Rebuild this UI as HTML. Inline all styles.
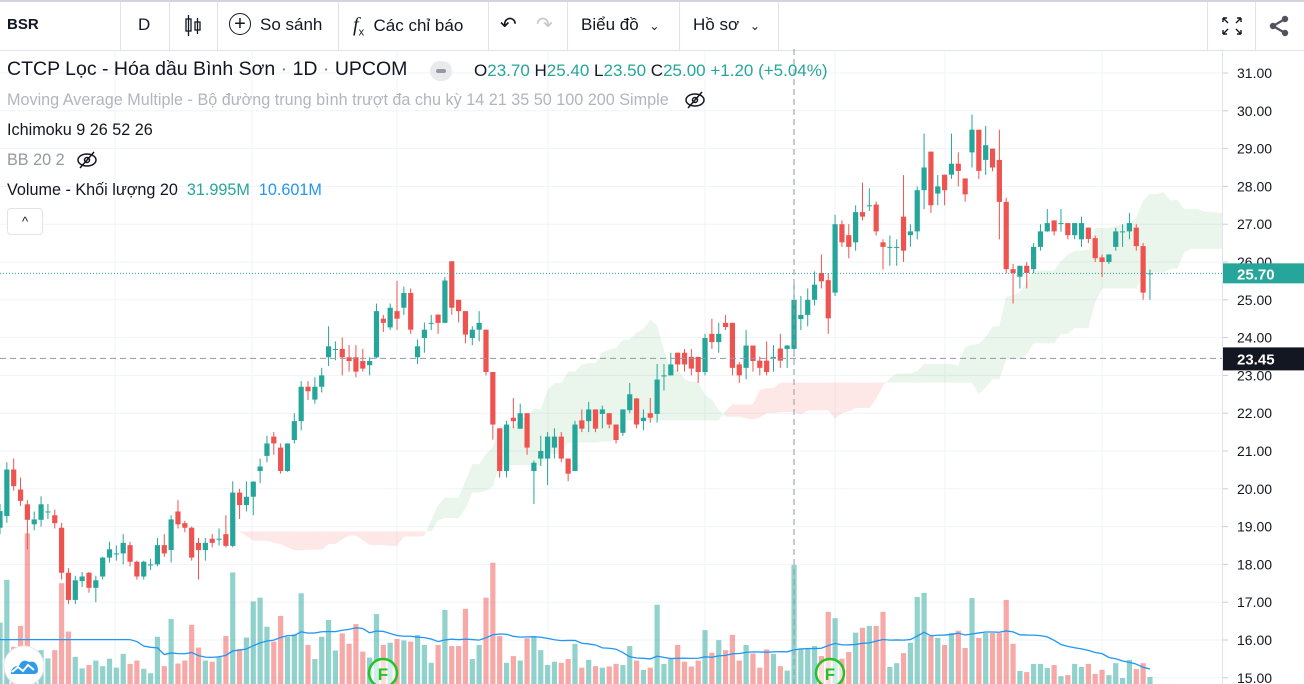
<!DOCTYPE html>
<html><head><meta charset="utf-8">
<style>
html,body{margin:0;padding:0;background:#fff;}
body{width:1304px;height:684px;overflow:hidden;position:relative;font-family:"Liberation Sans","Noto Sans CJK SC",sans-serif;color:#131722;}
.tb{position:absolute;left:0;top:0;width:1304px;height:48px;border-top:2px solid #d1d4dc;border-bottom:1px solid #e0e3eb;box-sizing:content-box;}
.sep{position:absolute;top:0;width:1px;height:48px;background:#e0e3eb;}
.ti{position:absolute;top:0;height:48px;line-height:46px;font-size:17px;color:#131722;white-space:nowrap;}
.lg{position:absolute;left:7px;font-size:16.2px;white-space:nowrap;}
.t{color:#26a69a}
#chart{position:absolute;left:0;top:0;}
</style></head>
<body>
<div class="tb">
  <div class="ti" style="left:7px;font-weight:bold;font-size:15px">BSR</div>
  <div class="sep" style="left:120px"></div>
  <div class="ti" style="left:138px">D</div>
  <div class="sep" style="left:169px"></div>
  <svg class="ti" style="left:183px;top:12px;height:24px" width="20" height="24"><rect x="3" y="5" width="5" height="12" fill="none" stroke="#131722" stroke-width="1.3"/><line x1="5.5" y1="1" x2="5.5" y2="22" stroke="#131722" stroke-width="1.3"/><rect x="12" y="8" width="5" height="8" fill="none" stroke="#131722" stroke-width="1.3"/><line x1="14.5" y1="4" x2="14.5" y2="20" stroke="#131722" stroke-width="1.3"/></svg>
  <div class="sep" style="left:217px"></div>
  <div class="ti" style="left:229px"><span style="display:inline-block;width:20px;height:20px;border:1.5px solid #131722;border-radius:50%;text-align:center;line-height:20px;font-size:20px;vertical-align:middle;margin-right:9px;margin-top:-3px">+</span>So sánh</div>
  <div class="sep" style="left:338px"></div>
  <div class="ti" style="left:353px"><i style="font-family:'Liberation Serif',serif;font-size:20px">f</i><sub style="font-size:11px">x</sub>&nbsp;&nbsp;Các chỉ báo</div>
  <div class="sep" style="left:488px"></div>
  <div class="ti" style="left:500px;font-size:20px">↶</div>
  <div class="ti" style="left:536px;font-size:20px;color:#c4c6cc">↷</div>
  <div class="sep" style="left:567px"></div>
  <div class="ti" style="left:581px">Biểu đồ <span style="font-size:12px;margin-left:6px">⌄</span></div>
  <div class="sep" style="left:679px"></div>
  <div class="ti" style="left:693px">Hồ sơ <span style="font-size:12px;margin-left:6px">⌄</span></div>
  <div class="sep" style="left:778px"></div>
  <div class="sep" style="left:1207px"></div>
  <svg class="ti" style="left:1220px;top:13px;height:22px" width="24" height="22"><g stroke="#131722" stroke-width="1.4" fill="none"><path d="M3 3l5 5M3 3h4M3 3v4M21 3l-5 5M21 3h-4M21 3v4M3 19l5-5M3 19h4M3 19v-4M21 19l-5-5M21 19h-4M21 19v-4"/></g></svg>
  <div class="sep" style="left:1255px"></div>
  <svg class="ti" style="left:1268px;top:13px;height:22px" width="22" height="22"><g fill="#50535e"><circle cx="17" cy="4" r="3.2"/><circle cx="5" cy="11" r="3.2"/><circle cx="17" cy="18" r="3.2"/></g><path d="M17 4L5 11L17 18" stroke="#50535e" stroke-width="2.2" fill="none"/></svg>
</div>

<svg id="chart" width="1304" height="684"></svg>

<div class="lg" style="top:58px;font-size:19.5px">CTCP Lọc - Hóa dầu Bình Sơn <span style="color:#787b86">·</span> 1D <span style="color:#787b86">·</span> UPCOM</div>
<div style="position:absolute;left:430px;top:61px;width:22px;height:20px;border-radius:10px;background:#e9eaee"><div style="position:absolute;left:6px;top:8px;width:10px;height:4px;border-radius:2px;background:#9598a1"></div></div>
<div class="lg" style="left:474px;top:61px;font-size:17px">O<span class="t">23.70</span> H<span class="t">25.40</span> L<span class="t">23.50</span> C<span class="t">25.00</span> <span class="t">+1.20 (+5.04%)</span></div>
<div class="lg" style="top:91px;color:#b2b5be">Moving Average Multiple - Bộ đường trung bình trượt đa chu kỳ 14 21 35 50 100 200 Simple</div>
<svg style="position:absolute;left:684px;top:90px" width="22" height="20"><ellipse cx="11" cy="10" rx="9" ry="6" fill="none" stroke="#131722" stroke-width="1.5"/><circle cx="11" cy="10" r="2.5" fill="none" stroke="#131722" stroke-width="1.5"/><line x1="4" y1="18" x2="18" y2="2" stroke="#131722" stroke-width="1.5"/></svg>
<div class="lg" style="top:121px">Ichimoku 9 26 52 26</div>
<div class="lg" style="top:151px;color:#9598a1">BB 20 2</div>
<svg style="position:absolute;left:76px;top:150px" width="22" height="20"><ellipse cx="11" cy="10" rx="9" ry="6" fill="none" stroke="#131722" stroke-width="1.5"/><circle cx="11" cy="10" r="2.5" fill="none" stroke="#131722" stroke-width="1.5"/><line x1="4" y1="18" x2="18" y2="2" stroke="#131722" stroke-width="1.5"/></svg>
<div class="lg" style="top:181px">Volume - Khối lượng 20 &nbsp;<span class="t">31.995M</span> &nbsp;<span style="color:#2196f3">10.601M</span></div>
<div style="position:absolute;left:7px;top:208px;width:34px;height:25px;border:1px solid #e0e3eb;border-radius:4px;background:#fff;text-align:center;line-height:26px;font-size:13px">^</div>

<script>
const opens=[18.97,19.28,20.51,19.98,19.59,19.06,19.18,19.4,19.3,18.97,17.78,17.06,17.56,17.78,17.38,17.68,18.18,18.29,18.29,18.51,18.07,17.68,18.0,18.0,18.51,18.38,19.4,19.09,18.97,18.57,18.38,18.68,18.68,18.8,18.49,19.9,19.57,19.79,20.47,20.87,21.38,21.09,20.47,21.29,21.79,22.7,22.36,22.7,23.48,23.7,23.7,23.48,23.48,23.38,23.27,23.48,24.5,24.27,24.7,24.79,25.18,23.48,23.99,24.39,24.61,24.39,26.02,25.0,24.7,23.99,24.21,24.21,23.09,21.6,20.47,21.88,21.59,22.0,20.47,20.8,20.8,21.09,21.38,20.8,20.47,21.81,21.79,22.1,21.98,22.0,21.7,21.48,22.08,22.39,21.79,22.0,21.98,23.0,23.0,23.6,23.6,23.49,23.49,23.09,24.1,23.88,24.39,24.39,23.29,23.2,23.79,23.39,23.39,23.49,23.71,23.7,23.7,24.49,24.6,25.0,25.71,25.52,25.19,27.0,26.71,26.52,27.32,27.5,27.52,26.52,26.4,26.4,27.2,26.71,26.81,27.9,28.92,27.81,28.31,28.31,28.6,28.21,28.9,29.5,28.7,29.0,28.7,27.59,25.81,25.61,25.9,25.81,26.4,26.81,27.1,27.03,27.03,26.71,26.6,26.91,26.63,26.12,26.0,26.4,26.81,26.81,26.91,26.42,25.7];
const highs=[19.6,20.7,20.8,20.3,19.7,19.4,19.8,19.6,19.45,19.1,17.9,17.7,17.8,17.8,17.7,18.2,18.6,18.5,18.8,18.6,18.1,18.1,18.15,18.7,18.8,19.3,19.7,19.15,19.0,18.7,18.7,18.8,18.95,19.3,20.2,20.0,20.2,20.2,20.8,21.4,21.5,21.2,21.2,22.0,22.85,22.85,22.95,23.2,24.3,23.9,24.0,23.8,23.8,23.7,23.48,24.9,24.6,24.9,25.5,25.35,25.3,23.95,24.4,24.6,24.61,25.6,26.02,25.0,24.7,24.3,24.7,24.21,23.09,21.6,21.8,22.4,22.25,22.0,20.75,21.4,21.5,21.6,21.5,20.8,21.8,22.1,22.3,22.1,22.2,22.0,21.7,22.1,22.8,22.4,22.1,22.4,23.3,23.3,23.6,23.6,23.7,23.7,23.49,24.1,24.5,24.39,24.6,24.39,23.35,24.2,23.79,23.5,23.9,23.8,24.1,23.8,25.4,25.1,25.3,25.75,26.2,25.7,27.25,27.1,27.0,27.5,28.1,27.95,27.6,26.6,26.7,26.6,28.3,27.0,28.0,29.4,28.92,28.3,28.31,29.4,28.9,28.21,29.9,29.5,29.6,29.0,29.5,27.7,25.95,25.9,26.0,26.5,27.0,27.4,27.1,27.4,27.03,27.03,27.2,26.91,26.7,26.2,26.2,26.9,27.0,27.3,27.0,26.5,25.8];
const lows=[18.8,19.1,19.95,19.55,18.4,18.9,19.0,19.2,18.95,17.6,16.95,16.95,17.4,17.25,17.0,17.6,18.05,18.1,18.0,17.95,17.6,17.6,17.85,17.95,18.2,18.05,18.95,18.85,18.1,17.6,18.1,18.45,18.5,18.45,18.45,19.2,19.4,19.3,20.15,20.7,20.9,20.4,20.45,21.2,21.55,22.35,22.25,22.55,23.25,23.4,23.0,23.1,22.95,23.1,23.0,23.45,24.15,24.2,24.2,24.6,24.1,23.3,23.6,24.2,24.1,24.38,24.6,24.4,23.85,23.8,23.9,23.0,21.3,20.3,20.3,21.6,21.59,20.9,19.6,20.6,20.1,20.8,20.7,20.2,20.47,21.5,21.5,21.5,21.6,21.6,21.2,21.4,22.0,21.6,21.55,21.75,21.75,22.6,23.0,23.1,23.1,23.0,22.8,23.0,23.7,23.6,24.2,23.0,22.8,22.9,23.1,23.0,23.0,23.1,23.2,23.2,23.5,24.2,24.3,24.85,25.3,24.1,25.1,26.4,26.1,26.3,27.1,27.35,26.7,25.8,25.9,25.9,26.0,26.4,26.6,27.4,27.3,27.5,27.5,28.2,28.0,27.6,28.5,28.2,28.3,28.4,26.6,25.7,24.9,25.3,25.3,25.7,26.3,26.8,26.7,26.8,26.6,26.6,26.4,26.5,26.0,25.6,25.95,26.3,26.4,26.6,26.3,25.0,25.0];
const closes=[19.41,20.51,20.07,19.68,19.18,19.19,19.59,19.4,19.09,17.78,17.06,17.58,17.68,17.38,17.58,18.18,18.4,18.29,18.57,18.07,17.68,18.07,18.0,18.51,18.29,19.19,19.06,18.97,18.18,18.38,18.57,18.57,18.68,18.49,19.9,19.57,19.79,20.19,20.59,21.2,21.2,20.47,21.2,21.79,22.7,22.58,22.7,23.0,23.77,23.7,23.48,23.38,23.1,23.18,23.38,24.7,24.39,24.79,24.5,25.18,24.21,23.77,24.21,24.39,24.39,25.51,24.79,24.7,24.08,24.21,24.39,23.09,21.7,20.47,21.7,21.79,22.0,21.09,20.69,21.0,21.38,21.38,20.8,20.4,21.7,21.59,22.1,21.59,22.1,21.7,21.29,22.1,22.5,21.7,21.88,21.88,22.89,23.0,23.29,23.29,23.29,23.18,23.09,23.99,23.88,24.1,24.28,23.2,23.0,23.79,23.38,23.2,23.09,23.49,23.39,23.79,25.0,24.6,25.0,25.4,25.49,24.51,27.0,26.52,26.4,27.32,27.2,27.5,26.81,26.4,26.4,26.4,26.3,26.81,27.9,28.5,27.5,28.0,27.9,28.6,28.41,27.79,29.5,28.41,29.09,28.5,27.59,25.81,25.71,25.9,25.71,26.4,26.81,27.03,26.81,27.03,26.71,27.03,27.03,26.61,26.1,26.0,26.2,26.81,26.81,27.03,26.42,25.19,25.7];
const volumes=[16.5,28.0,10.0,15.6,40.5,9.1,9.1,6.9,9.1,27.1,14.1,7.3,4.2,5.1,6.3,4.8,6.8,4.4,8.1,5.4,6.3,4.1,2.9,12.7,4.8,17.5,5.5,6.3,15.9,9.8,6.3,6.0,7.3,12.9,30.0,9.4,12.5,22.2,23.2,15.4,11.4,18.3,12.7,13.4,24.4,10.5,6.7,12.7,17.2,9.0,13.6,10.8,16.1,8.7,7.1,18.8,10.5,11.1,12.1,11.7,11.4,13.2,10.5,5.7,10.5,19.9,10.2,10.2,20.2,6.7,10.5,23.2,32.6,12.9,5.7,7.5,6.3,12.3,12.9,9.1,5.1,6.0,5.7,6.7,10.8,4.4,6.5,4.8,4.4,4.7,5.4,5.1,10.2,6.3,3.8,4.4,21.3,5.4,6.7,10.5,6.0,4.7,6.3,14.5,8.4,11.8,9.1,13.2,6.3,10.5,8.2,4.4,9.3,8.1,4.8,3.6,32.0,9.6,9.6,10.2,7.5,19.4,17.7,6.8,8.6,13.8,15.1,15.6,15.6,19.4,4.6,5.6,8.3,11.1,23.4,24.5,12.9,12.4,10.5,13.7,14.3,9.7,23.1,12.4,13.7,13.7,13.7,22.6,10.8,3.5,3.2,5.4,5.4,4.3,5.1,2.1,2.4,5.4,4.6,5.4,2.7,3.8,2.4,5.6,1.6,6.5,4.0,5.6,1.9];
const priceTicks=[31,30,29,28,27,26,25,24,23,22,21,20,19,18,17,16,15];
const lastPrice=25.70;
const crossPrice=23.45;
const crossIndex=116;

const NS="http://www.w3.org/2000/svg";
const svg=document.getElementById('chart');
const PW=1222, TOP=49, BOT=684;
const STEP=6.845;
function xOf(i){return i*STEP;}
function yOf(p){return 73+(31-p)*37.8;}
function yVol(v){return 684-v*3.72;}
function mk(tag,attrs,parent){const e=document.createElementNS(NS,tag);for(const k in attrs)e.setAttribute(k,attrs[k]);(parent||svg).appendChild(e);return e;}

const defs=mk('defs',{});
const cp=mk('clipPath',{id:'pc'},defs);
mk('rect',{x:0,y:TOP,width:PW,height:BOT-TOP},cp);

const grid=mk('g',{});


priceTicks.forEach(p=>{mk('line',{x1:0,x2:PW,y1:yOf(p),y2:yOf(p),stroke:'#f0f3fa','stroke-width':1},grid);});
[115,252,397,548,705,835,945,1102].forEach(x=>{mk('line',{x1:x,x2:x,y1:TOP,y2:BOT,stroke:'#f0f3fa','stroke-width':1},grid);});

const plot=mk('g',{'clip-path':'url(#pc)'});

function hl(a,b){let h=-1e9,l=1e9;for(let k=Math.max(0,a);k<=b;k++){h=Math.max(h,highs[k]);l=Math.min(l,lows[k]);}return (h+l)/2;}
const N=closes.length, D=26;
const spanA=[],spanB=[];
for(let i=0;i<N;i++){
  const ten=hl(i-8,i), kij=hl(i-25,i), sb=hl(i-51,i);
  spanA[i+D-1]=(ten+kij)/2; spanB[i+D-1]=sb;
}
const cloud=mk('g',{},plot);


for(let i=D-1;i<N+D-2;i++){
  const a0=spanA[i],a1=spanA[i+1],b0=spanB[i],b1=spanB[i+1];
  const col=(a0+a1)>=(b0+b1)?'rgba(67,160,71,0.11)':'rgba(244,67,54,0.12)';
  const poly=mk('polygon',{points:`${xOf(i)},${yOf(a0)} ${xOf(i+1)},${yOf(a1)} ${xOf(i+1)},${yOf(b1)} ${xOf(i)},${yOf(b0)}`,fill:col},cloud);
  
  
}

const vg=mk('g',{},plot);


for(let i=0;i<N;i++){
  const up=closes[i]>=opens[i];
  const r=mk('rect',{x:xOf(i)-2.6,y:yVol(volumes[i]),width:5.2,height:BOT-yVol(volumes[i]),fill:up?'rgba(38,166,154,0.5)':'rgba(239,83,80,0.5)'},vg);
  
  
}
let pts=[];
for(let i=0;i<N;i++){
  const s0=Math.max(0,i-19), e0=Math.max(19,i);
  let s=0,c=0;for(let k=e0-19;k<=e0;k++){s+=volumes[k];c++;}
  pts.push(xOf(i)+','+yVol(s/c));
}
const vma=mk('polyline',{points:pts.join(' '),fill:'none',stroke:'#2196f3','stroke-width':1.3},plot);



const cg=mk('g',{},plot);


for(let i=0;i<N;i++){
  const up=closes[i]>=opens[i];const col=up?'#26a69a':'#ef5350';
  const x=xOf(i);
  const w=mk('line',{x1:x,x2:x,y1:yOf(highs[i]),y2:yOf(lows[i]),stroke:col,'stroke-width':1},cg);
  
  
  const yt=yOf(Math.max(opens[i],closes[i]));const h=Math.max(1,yOf(Math.min(opens[i],closes[i]))-yt);
  const b=mk('rect',{x:x-2.6,y:yt,width:5.2,height:h,fill:col},cg);
  
  
}

const lp=mk('line',{x1:0,x2:PW,y1:yOf(lastPrice),y2:yOf(lastPrice),stroke:'#26a69a','stroke-width':1,'stroke-dasharray':'1 2'});


const ch=mk('line',{x1:0,x2:PW,y1:yOf(crossPrice),y2:yOf(crossPrice),stroke:'#9598a1','stroke-width':1,'stroke-dasharray':'6 4'});


const cv=mk('line',{x1:xOf(crossIndex),x2:xOf(crossIndex),y1:TOP,y2:BOT,stroke:'#9598a1','stroke-width':1,'stroke-dasharray':'6 4'});



const ax=mk('g',{});


mk('line',{x1:1222.5,x2:1222.5,y1:TOP,y2:BOT,stroke:'#e0e3eb'},ax);
priceTicks.forEach(p=>{
  mk('line',{x1:1223,x2:1228,y1:yOf(p),y2:yOf(p),stroke:'#c9ccd4'},ax);
  const t=mk('text',{x:1237,y:yOf(p)+5,'font-size':14,fill:'#131722','font-family':'Liberation Sans, sans-serif'},ax);
  t.textContent=p.toFixed(2);
  
  
});
const lb=mk('g',{});


mk('rect',{x:1223,y:yOf(lastPrice)-10,width:81,height:20,fill:'#26a69a'},lb);
const lt=mk('text',{x:1237,y:yOf(lastPrice)+6,'font-size':15,'font-weight':'bold',fill:'#fff','font-family':'Liberation Sans, sans-serif'},lb);
lt.textContent=lastPrice.toFixed(2);
const cb=mk('g',{});


mk('rect',{x:1223,y:yOf(crossPrice)-11,width:81,height:23,fill:'#131722'},cb);
const ct=mk('text',{x:1237,y:yOf(crossPrice)+6,'font-size':15,'font-weight':'bold',fill:'#fff','font-family':'Liberation Sans, sans-serif'},cb);
ct.textContent=crossPrice.toFixed(2);

[56,121].forEach(i=>{
  const g=mk('g',{});
  
  
  const cx=i===56?383:830;
  mk('circle',{cx:cx,cy:673,r:14,fill:'rgba(255,255,255,0.6)',stroke:'#22c322','stroke-width':2.5},g);
  const t=mk('text',{x:cx,y:680,'text-anchor':'middle','font-size':17,'font-weight':'bold',fill:'#22c322','font-family':'Liberation Sans, sans-serif'},g);
  t.textContent='F';
});
const lg=mk('g',{});


mk('circle',{cx:24,cy:666,r:20,fill:'#fff',stroke:'#e8e8e8','stroke-width':1},lg);
mk('path',{d:'M11 674 q0 -8 8 -8 q3 -8 10 -4 q8 -2 9 8 q0 4 -4 4 z',fill:'#2e9bea'},lg);
mk('path',{d:'M12 672 l6 -5 l5 4 l5 -6 l6 5',fill:'none',stroke:'#fff','stroke-width':2},lg);
</script>
</body></html>
